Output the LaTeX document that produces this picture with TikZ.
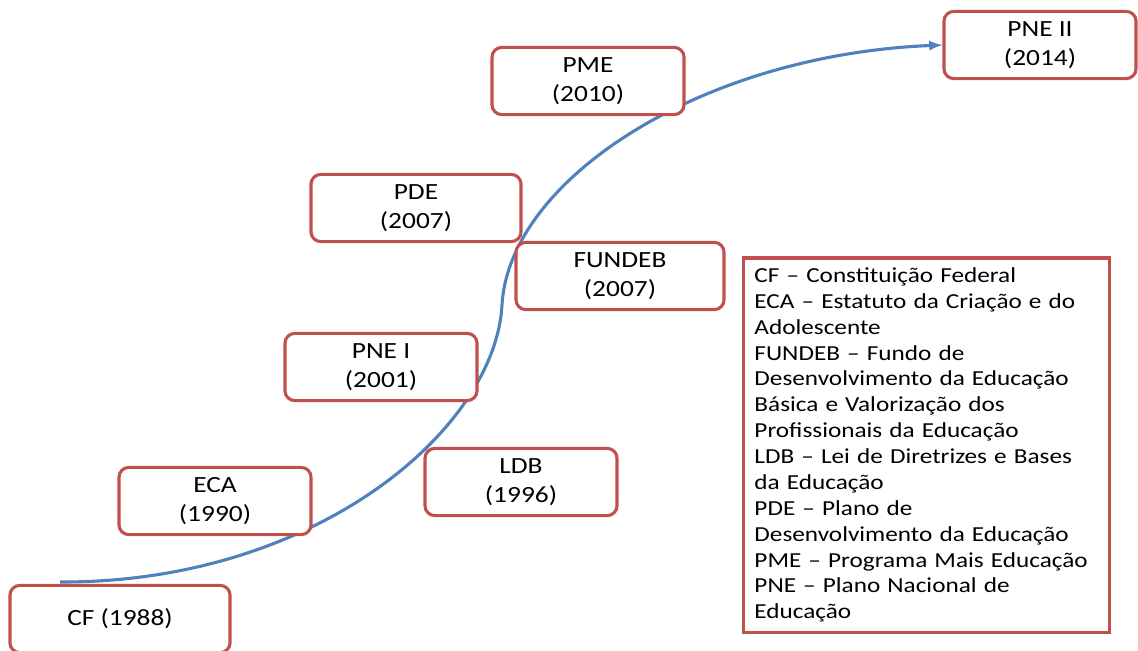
\documentclass[tikz,border=0pt]{standalone}
\usepackage{fontspec}
\setmainfont{Carlito}[FakeStretch=1.18]
\usepackage{tikz}
\definecolor{vermelho}{RGB}{192,80,77}
\definecolor{azul}{RGB}{79,129,189}

\begin{document}
\begin{tikzpicture}[x=0.025cm, y=-0.025cm,
  marco/.style={draw=vermelho, line width=2.2pt, rounded corners=7pt, fill=white,
    align=center, minimum width=4.8cm, minimum height=1.68cm,
    font=\fontsize{16.5}{20.5}\selectfont},
  legenda/.style={draw=vermelho, line width=2.2pt, fill=white, align=left,
    text width=8.6cm, minimum height=9.35cm, inner xsep=0.28cm,
    font=\fontsize{15.2}{18.4}\selectfont}]
\useasboundingbox (0,0) rectangle (1138,651);
\coordinate (inicio) at (60,582);
\coordinate (meio) at (502,305);
\node[marco] (pne2) at (1040,45) {PNE II\\(2014)};
% curva da linha do tempo
\draw[azul, line width=2.2pt, ->, >=latex] (inicio) .. controls (315,583) and (495,430) .. (meio)
  .. controls (509,180) and (700,55) .. (pne2.west);
\node[marco] (pme) at (588,81) {PME\\(2010)};
\node[marco, minimum width=5.25cm] (pde) at (416,208) {PDE\\(2007)};
\node[marco, minimum width=5.2cm] (fundeb) at (620,276) {FUNDEB\\(2007)};
\node[marco] (pne1) at (381,367) {PNE I\\(2001)};
\node[marco] (ldb) at (521,482) {LDB\\(1996)};
\node[marco] (eca) at (215,501) {ECA\\(1990)};
\node[marco, minimum width=5.5cm] (cf) at (120,619) {CF (1988)};
\node[legenda] (siglas) at (926.5,445) {CF -- Constituição Federal\\
ECA -- Estatuto da Criação e do\\
Adolescente\\
FUNDEB -- Fundo de\\
Desenvolvimento da Educação\\
Básica e Valorização dos\\
Profissionais da Educação\\
LDB -- Lei de Diretrizes e Bases\\
da Educação\\
PDE -- Plano de\\
Desenvolvimento da Educação\\
PME -- Programa Mais Educação\\
PNE -- Plano Nacional de\\
Educação};
\end{tikzpicture}
\end{document}
